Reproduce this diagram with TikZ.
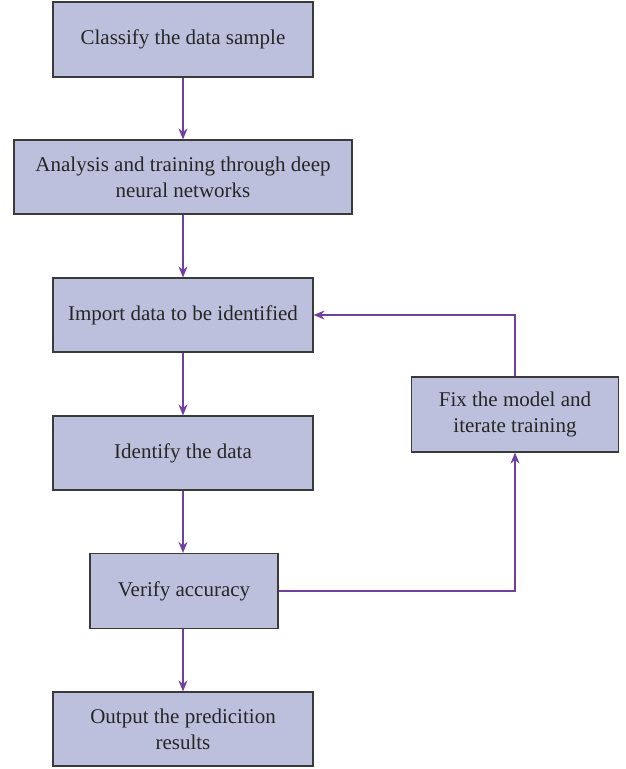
\documentclass[tikz,border=0pt]{standalone}
\usepackage{fontspec}
\setmainfont{Liberation Serif}
\usetikzlibrary{arrows.meta}
\definecolor{boxfill}{HTML}{BDC0DC}
\definecolor{boxline}{HTML}{3A3A3A}
\definecolor{arrowc}{HTML}{7040A0}
\begin{document}
\begin{tikzpicture}[x=1pt,y=-1pt,
  box/.style={draw=boxline,fill=boxfill,line width=1.2pt,inner sep=0pt,align=center,
    font=\fontsize{21}{26}\selectfont,text=black!85},
  conn/.style={draw=arrowc,line width=1.5pt,-{Stealth[length=11pt,width=9pt]}}]
\useasboundingbox (0,0) rectangle (626,769);
\node[box,minimum width=260pt,minimum height=75pt] (b1) at (183,39.5) {Classify the data sample};
\node[box,minimum width=338pt,minimum height=74pt] (b2) at (183,177) {Analysis and training through deep\\neural networks};
\node[box,minimum width=260pt,minimum height=74pt] (b3) at (183,315) {Import data to be identified};
\node[box,minimum width=260pt,minimum height=74pt] (b4) at (183,453) {Identify the data};
\node[box,minimum width=188pt,minimum height=75pt] (b5) at (184,591) {Verify accuracy};
\node[box,minimum width=260pt,minimum height=74pt] (b6) at (183,729) {Output the predicition\\results};
\node[box,minimum width=207pt,minimum height=75pt] (b7) at (515,414.5) {Fix the model and\\iterate training};
\draw[conn] (b1.south) -- (b2.north);
\draw[conn] (b2.south) -- (b3.north);
\draw[conn] (b3.south) -- (b4.north);
\draw[conn] (b4.south) -- (b5.north -| b4.south);
\draw[conn] (b5.south -| b6.north) -- (b6.north);
\draw[conn] (b5.east) -| (b7.south);
\draw[conn] (b7.north) |- (b3.east);
\end{tikzpicture}
\end{document}
